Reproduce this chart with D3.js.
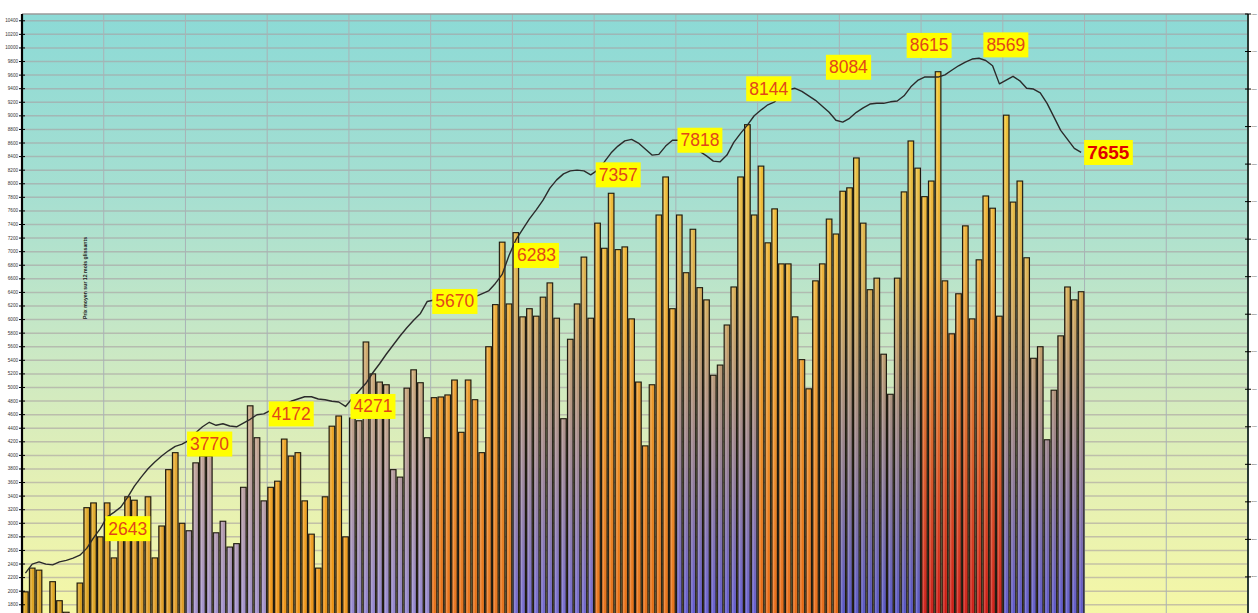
<!DOCTYPE html>
<html><head><meta charset="utf-8">
<script src="https://cdn.jsdelivr.net/npm/d3@7"></script>
<style>html,body{margin:0;padding:0;background:#fff;overflow:hidden}svg{display:block}</style>
</head><body>
<svg id="chart" width="1258" height="613"></svg>
<script>
// ---------------- DATA ----------------
const years = ["1997","1998","1999","2000","2001","2002","2003","2004","2005","2006","2007","2008","2009","2010","2011"];
const months = ["01","02","03","04","05","06","07","08","09","10","11","12"];

// monthly values (bars, left axis)
const barValues = [
 1990,2340,2310,1380,2140,1860,1690,1380,2120,3230,3300,2800,
 3300,2490,2900,3390,3340,2750,3390,2490,2960,3790,4040,3000,
 2890,3890,3990,3990,2860,3030,2650,2700,3530,4730,4260,3330,
 3530,3620,4240,3990,4040,3330,2840,2340,3390,4430,4580,2800,
 4550,4510,5670,5200,5080,5040,3790,3680,4990,5260,5070,4260,
 4850,4860,4890,5110,4340,5110,4820,4040,5600,6220,7140,6230,
 7280,6040,6160,6050,6330,6540,6020,4540,5710,6230,6920,6020,
 7420,7050,7860,7030,7070,6010,5080,4140,5040,7540,8100,6160,
 7540,6690,7330,6470,6290,5180,5330,5920,6480,8100,8870,7540,
 8260,7130,7630,6820,6820,6040,5410,4980,6570,6820,7480,7260,
 7890,7940,8380,7420,6440,6610,5490,4900,6610,7880,8630,8230,
 7810,8040,9650,6570,5790,6380,7380,6010,6880,7820,7640,6050,
 9010,7730,8040,6910,5430,5600,4230,4960,5760,6480,6290,6410
];

// rolling values (line, right axis)
const lineValues = [
 2050,2170,2200,2170,2160,2200,2220,2250,2290,2380,2520,2643,
 2800,2860,2930,3060,3210,3330,3440,3530,3610,3680,3740,3770,
 3820,3920,4000,4060,4020,4040,4010,4000,4050,4100,4160,4172,
 4220,4260,4300,4340,4370,4400,4400,4370,4360,4340,4330,4271,
 4380,4480,4580,4720,4840,4970,5090,5210,5320,5420,5510,5670,
 5690,5690,5690,5700,5700,5710,5730,5770,5810,5910,6030,6283,
 6490,6630,6770,6890,7020,7180,7290,7370,7410,7420,7410,7357,
 7420,7530,7650,7740,7810,7830,7780,7700,7620,7630,7740,7818,
 7820,7790,7740,7670,7610,7540,7530,7620,7790,7910,8020,8144,
 8220,8290,8330,8420,8490,8510,8470,8410,8350,8270,8190,8084,
 8060,8110,8190,8250,8300,8310,8310,8330,8340,8410,8530,8615,
 8660,8660,8660,8690,8750,8810,8860,8900,8910,8880,8810,8569,
 8620,8670,8610,8510,8500,8450,8310,8130,7950,7830,7710,7655
];

// annotated points (index into the months) and their label texts
const labelIndex = [11,23,35,47,59,71,83,95,107,119,131,143,155];
const labelText  = ["2643","3770","4172","4271","5670","6283","7357","7818","8144","8084","8615","8569","7655"];

// axis tick labels
const leftTicks = [0,200,400,600,800,1000,1200,1400,1600,1800,2000,2200,2400,2600,2800,3000,3200,3400,3600,3800,
 4000,4200,4400,4600,4800,5000,5200,5400,5600,5800,6000,6200,6400,6600,6800,7000,7200,7400,7600,7800,
 8000,8200,8400,8600,8800,9000,9200,9400,9600,9800,10000,10200,10400];
const rightTicks = [0,500,1000,1500,2000,2500,3000,3500,4000,4500,5000,5500,6000,6500,7000,7500,8000,8500,9000,9500];
const axisTitle = "Prix moyen sur 12 mois glissants";

// ---------------- LAYOUT / STYLE ----------------
const W = 1258, H = 613;
const L = 22, R = 1248, T = 14, B = 727;
const yearBottomColors = ["#dca018","#e09a20","#9c8cd4","#ee900e","#8c80d8","#e86a12","#6a62d8","#e8680e","#5a54d8","#e8620e","#4c4ccc","#cc0e0e","#5450d2"];
const labelNudge = {107:[-9,-27], 119:[-11,-53], 131:[-12,-35], 143:[-17,-39], 155:[2,0]};

const categories = [];
years.forEach(y => months.forEach(m => categories.push(y + "-" + m)));

const svg = d3.select("#chart");
const defs = svg.append("defs");

const x = d3.scaleBand().domain(categories).range([L, R]).paddingInner(0.17).paddingOuter(0.085);
const yL = d3.scaleLinear().domain([0, 10500]).range([B, T]);
const yR = d3.scaleLinear().domain([0, 9500]).range([B, T]);

// background gradient
const bg = defs.append("linearGradient").attr("id","bg").attr("gradientUnits","userSpaceOnUse")
  .attr("x1",0).attr("x2",0).attr("y1",T).attr("y2",H);
[[0,"#8cdad6"],[0.3,"#a6dfd1"],[0.55,"#c9e8c5"],[0.78,"#e4f0b5"],[1,"#f5f7a6"]]
  .forEach(s => bg.append("stop").attr("offset",s[0]).attr("stop-color",s[1]));

// bar gradients per year
yearBottomColors.forEach((c,i) => {
  const g = defs.append("linearGradient").attr("id","yg"+i).attr("gradientUnits","userSpaceOnUse")
    .attr("x1",0).attr("x2",0).attr("y1",110).attr("y2",630);
  g.append("stop").attr("offset",0).attr("stop-color","#f3c52e");
  g.append("stop").attr("offset",0.32).attr("stop-color", d3.interpolateRgb("#efbc38", c)(0.12));
  g.append("stop").attr("offset",1).attr("stop-color",c);
});
// cylinder shading overlay
const sh = defs.append("linearGradient").attr("id","shade").attr("x1",0).attr("x2",1).attr("y1",0).attr("y2",0);
sh.append("stop").attr("offset",0).attr("stop-color","#000").attr("stop-opacity",0.25);
sh.append("stop").attr("offset",0.3).attr("stop-color","#fff").attr("stop-opacity",0.25);
sh.append("stop").attr("offset",0.6).attr("stop-color","#fff").attr("stop-opacity",0);
sh.append("stop").attr("offset",1).attr("stop-color","#000").attr("stop-opacity",0.35);

svg.append("rect").attr("x",0).attr("y",0).attr("width",W).attr("height",H).attr("fill","#fff");
svg.append("rect").attr("x",L).attr("y",T).attr("width",R-L).attr("height",B-T).attr("fill","url(#bg)");

// horizontal gridlines
svg.append("g").selectAll("line").data(leftTicks.filter(v => v > 0)).join("line")
  .attr("x1",L).attr("x2",R).attr("y1",d => yL(d)).attr("y2",d => yL(d))
  .attr("stroke","#a89ea2").attr("stroke-opacity",0.6).attr("stroke-width",1.5);

// vertical gridlines at year boundaries
const gap = x.step() * x.paddingInner();
svg.append("g").selectAll("line").data(years.slice(1)).join("line")
  .attr("x1",d => x(d+"-01") - gap/2).attr("x2",d => x(d+"-01") - gap/2)
  .attr("y1",T).attr("y2",B)
  .attr("stroke","#a9b3b6").attr("stroke-width",1);

// plot top border
svg.append("line").attr("x1",L).attr("x2",R).attr("y1",T).attr("y2",T).attr("stroke","#9a9a9a").attr("stroke-width",1.5);

// bars
const barData = barValues.map((v,i) => ({cat: categories[i], v, yr: Math.floor(i/12)}));
const bars = svg.append("g");
bars.selectAll("rect.b").data(barData).join("rect").attr("class","b")
  .attr("x",d => x(d.cat)).attr("width",x.bandwidth())
  .attr("y",d => yL(d.v)).attr("height",d => yL(0) - yL(d.v))
  .attr("fill",d => "url(#yg"+d.yr+")");
bars.selectAll("rect.s").data(barData).join("rect").attr("class","s")
  .attr("x",d => x(d.cat)).attr("width",x.bandwidth())
  .attr("y",d => yL(d.v)).attr("height",d => yL(0) - yL(d.v))
  .attr("fill","url(#shade)").attr("stroke","#1e1a10").attr("stroke-width",1.1);

// line
const cx = i => x(categories[i]) + x.bandwidth()/2;
const line = d3.line().x((d,i) => cx(i)).y(d => yR(d));
svg.append("path").datum(lineValues).attr("d",line)
  .attr("fill","none").attr("stroke","#2b2b2b").attr("stroke-width",1.4).attr("stroke-linejoin","round");

// data labels
const lab = svg.append("g").attr("font-family","'Liberation Sans', Arial, sans-serif");
labelIndex.forEach((idx,k) => {
  const last = k === labelIndex.length - 1;
  const nd = labelNudge[idx] || [4,0];
  const px = cx(idx) + nd[0], py = yR(lineValues[idx]) + nd[1];
  const g = lab.append("g");
  const t = g.append("text").text(labelText[k])
    .attr("font-size", last ? 19 : 17.5).attr("font-weight", last ? "bold" : "normal")
    .attr("fill", last ? "#e00000" : "#e2461a")
    .attr("x", px + 4).attr("y", py).attr("dominant-baseline","central");
  const bb = t.node().getBBox();
  g.insert("rect","text").attr("x",bb.x-3).attr("y",py-12.5).attr("width",bb.width+6).attr("height",25)
    .attr("fill","#ffff00");
});

// left axis
const la = svg.append("g");
la.append("line").attr("x1",L).attr("x2",L).attr("y1",T).attr("y2",H).attr("stroke","#000").attr("stroke-width",2.2);
la.selectAll("line.t").data(leftTicks).join("line").attr("class","t")
  .attr("x1",L-3).attr("x2",L+3).attr("y1",d => yL(d)).attr("y2",d => yL(d)).attr("stroke","#000").attr("stroke-width",1);
la.selectAll("text").data(leftTicks.filter(d => yL(d) < H - 4)).join("text").text(d => d)
  .attr("x",L-4).attr("y",d => yL(d)).attr("text-anchor","end").attr("dominant-baseline","central")
  .attr("font-family","'Liberation Sans', Arial, sans-serif").attr("font-size",4.6).attr("fill","#333");

// right axis (labels squeezed into the narrow strip left by the frame)
const ra = svg.append("g");
ra.append("line").attr("x1",R).attr("x2",R).attr("y1",T).attr("y2",H).attr("stroke","#2a3a34").attr("stroke-width",2);
ra.selectAll("line.t").data(rightTicks).join("line").attr("class","t")
  .attr("x1",R-3).attr("x2",R+3).attr("y1",d => yR(d)).attr("y2",d => yR(d)).attr("stroke","#000").attr("stroke-width",1);
ra.selectAll("text").data(rightTicks.filter(d => yR(d) < H - 4)).join("text").text(d => d)
  .attr("x",R+3.6).attr("y",d => yR(d)).attr("dominant-baseline","central")
  .attr("font-family","'Liberation Sans', Arial, sans-serif").attr("font-size",2.4).attr("fill","#333");

// axis title (rotated)
svg.append("text").text(axisTitle)
  .attr("transform","translate(87,278) rotate(-90)").attr("text-anchor","middle")
  .attr("font-family","'Liberation Sans', Arial, sans-serif").attr("font-size",5.2).attr("font-weight","bold").attr("fill","#222");
</script>
</body></html>
